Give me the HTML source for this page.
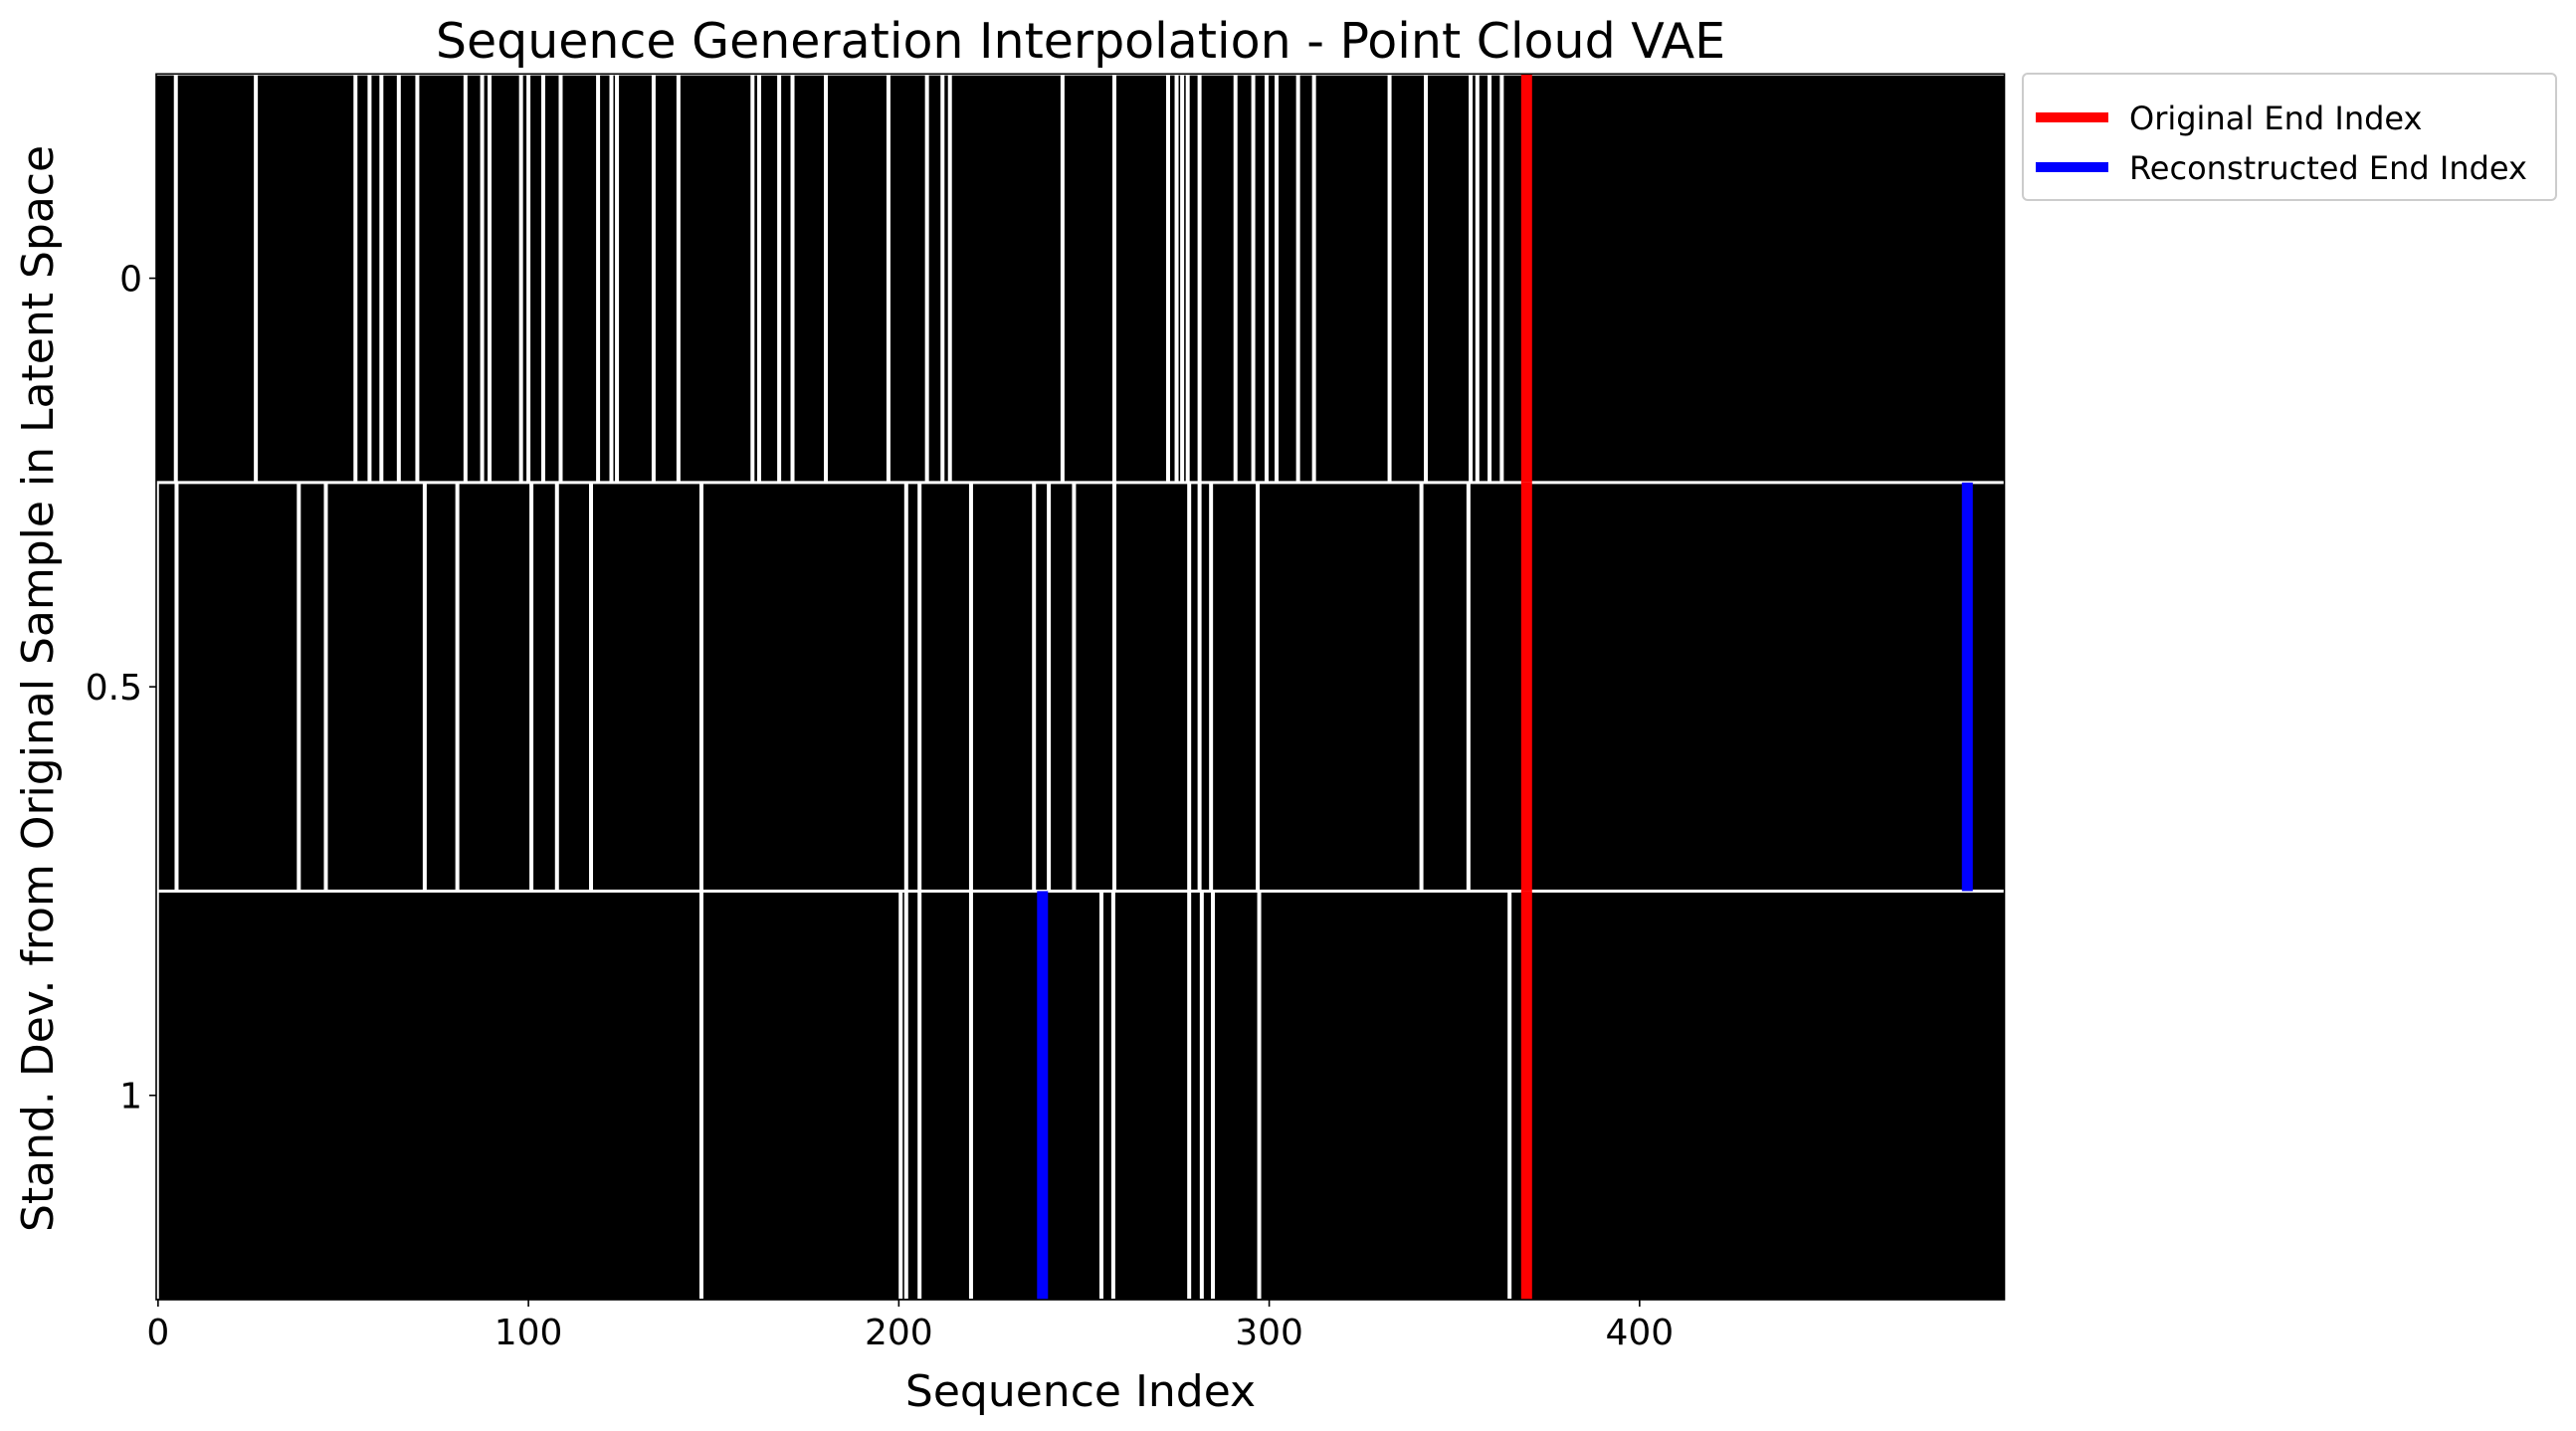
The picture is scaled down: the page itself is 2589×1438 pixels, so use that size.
<!DOCTYPE html>
<html><head><meta charset="utf-8"><style>
html,body{margin:0;padding:0;background:#fff;}
svg{display:block;font-family:"DejaVu Sans","Liberation Sans",sans-serif;}
</style></head><body>
<svg id="chart" width="2589" height="1438" viewBox="0 0 2589 1438" xmlns="http://www.w3.org/2000/svg">
<rect x="0" y="0" width="2589" height="1438" fill="#fff"/>
<text x="1086" y="58" font-size="49" text-anchor="middle" fill="#000">Sequence Generation Interpolation - Point Cloud VAE</text>
<g id="plot"></g>
<g id="axes"></g>
<text x="1086" y="1413" font-size="44" text-anchor="middle" fill="#000">Sequence Index</text>
<text transform="translate(53,692) rotate(-90)" font-size="44" text-anchor="middle" fill="#000">Stand. Dev. from Original Sample in Latent Space</text>
<g>
<rect x="2033" y="74" width="536" height="127" fill="#fff" stroke="#ccc" stroke-width="2" rx="5"/>
<rect x="2046" y="113" width="73" height="10" fill="#ff0000"/>
<text x="2140" y="130" font-size="32" fill="#000">Original End Index</text>
<rect x="2046" y="163" width="73" height="10" fill="#0000ff"/>
<text x="2140" y="180" font-size="32" fill="#000">Reconstructed End Index</text>
</g>
</svg>
<script>
const rowLabels = ["0", "0.5", "1"];
const xTicks = [0, 100, 200, 300, 400];
const row0Changes = [4.8, 26.4, 53.3, 57.1, 60.3, 65, 70, 83, 87.5, 89.5, 98, 100, 104, 108.7, 118.8, 122.4, 123.9, 133.8, 140.5, 160.5, 162.3, 167.7, 171.3, 180.3, 197.2, 207.6, 211.8, 213.8, 244.2, 258.2, 272.7, 275, 276.5, 278, 281.2, 290.9, 295.7, 299.3, 302, 307.8, 312.1, 332.5, 342.3, 354.4, 356.2, 359.5, 362.8];
const row1Changes = [-0.3, 5, 38, 45.3, 72, 80.8, 100.8, 107.7, 116.9, 146.7, 202, 205.6, 219.5, 236.5, 240.5, 247.3, 258.2, 278.4, 281.2, 284.3, 296.9, 341.1, 353.8];
const row2Changes = [-0.3, 146.7, 200.5, 202, 205.6, 219.5, 254.7, 257.9, 278.4, 281.8, 284.8, 297.3, 364.9];
const originalEnd = [369.5, 369.5, 369.5];
const reconstructedEnd = [null, 488.5, 238.8];
const xMin = -0.5, xMax = 498.5;

const L = 157, R = 2014.5, T = 74.3, B = 1306;
const rowH = (B - T) / 3;
function xs(v){ return L + (v - xMin) / (xMax - xMin) * (R - L); }
function ys(r){ return T + r * rowH; }
const NS = "http://www.w3.org/2000/svg";
const plot = document.getElementById('plot');
const axes = document.getElementById('axes');
function mk(tag, attrs, parent){ const e = document.createElementNS(NS, tag); for (const k in attrs) e.setAttribute(k, attrs[k]); parent.appendChild(e); return e; }

const bg = mk('rect', {x:L, y:T, width:R-L, height:B-T, fill:'#000'}, plot);



const rows = [row0Changes, row1Changes, row2Changes];
rows.forEach((arr, r) => {
  arr.forEach(v => {
    const ln = mk('rect', {x: xs(v) - 2, y: ys(r) + 1, width: 4, height: rowH - 2, fill:'#fff'}, plot);
    
    
  });
});
[0, 1, 2].forEach(r => {
  const h = mk('rect', {x: L, y: ys(r) - 1.5, width: R - L, height: 3, fill:'#fff'}, plot);
  
  
});
originalEnd.forEach((v, r) => {
  const m = mk('rect', {x: xs(v) - 5.5, y: ys(r), width: 11, height: rowH, fill:'#ff0000'}, plot);
  
  
});
reconstructedEnd.forEach((v, r) => {
  if (v === null) return;
  const m = mk('rect', {x: xs(v) - 5.5, y: ys(r), width: 11, height: rowH, fill:'#0000ff'}, plot);
  
  
});

const frame = mk('rect', {x:L, y:T, width:R-L, height:B-T, fill:'none', stroke:'#000', 'stroke-width':1.6}, axes);



xTicks.forEach(v => {
  const t = mk('line', {x1: xs(v), x2: xs(v), y1: B, y2: B + 7, stroke:'#000', 'stroke-width':1.6}, axes);
  
  
  const lb = mk('text', {x: xs(v), y: B + 45, 'font-size': 36, 'text-anchor':'middle', fill:'#000'}, axes);
  lb.textContent = String(v);
  
  
});
rowLabels.forEach((s, r) => {
  const y = ys(r) + rowH / 2;
  const t = mk('line', {x1: L - 7, x2: L, y1: y, y2: y, stroke:'#000', 'stroke-width':1.6}, axes);
  
  
  const lb = mk('text', {x: L - 14, y: y + 13, 'font-size': 36, 'text-anchor':'end', fill:'#000'}, axes);
  lb.textContent = s;
  
  
});
</script>
</body></html>
